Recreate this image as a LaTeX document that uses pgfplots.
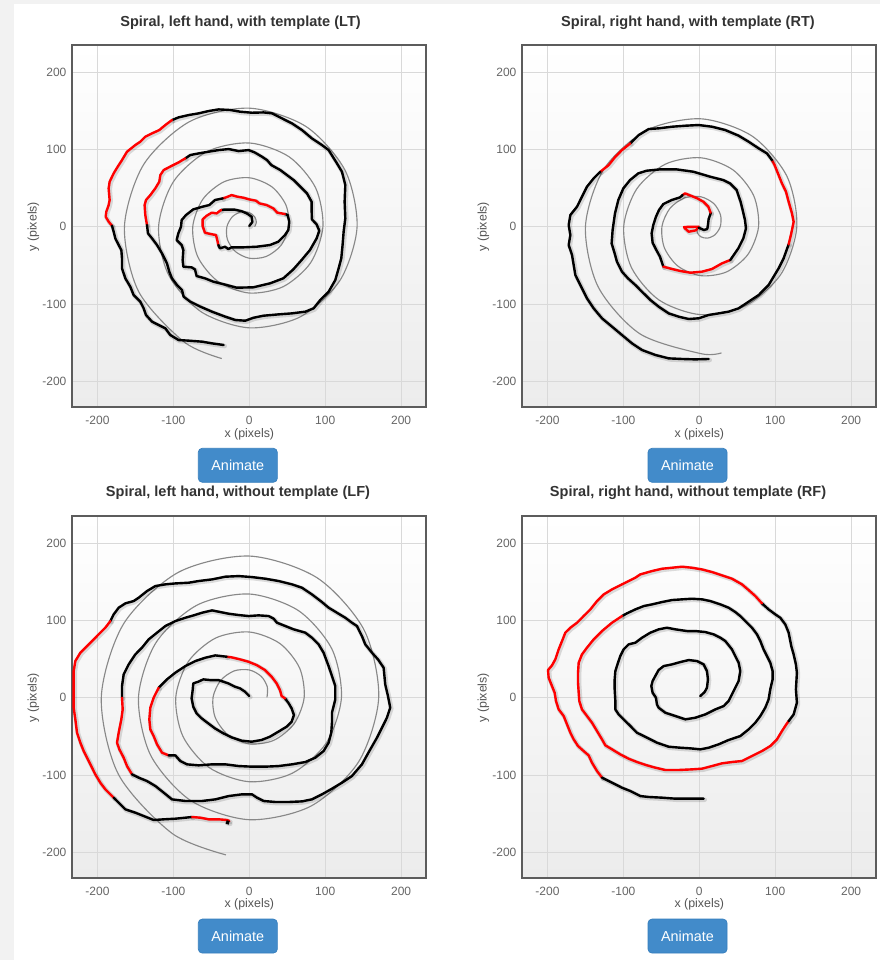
\documentclass[border=0pt]{standalone}
\usepackage{fontspec}
\setmainfont{Liberation Sans}
\usepackage{pgfplots}
\pgfplotsset{compat=1.18}
\definecolor{tgray}{HTML}{666666}
\definecolor{ttl}{HTML}{333333}
\definecolor{labc}{HTML}{555555}
\definecolor{framec}{HTML}{5C5C5C}
\definecolor{gridc}{HTML}{D9D9D9}
\definecolor{bgb}{HTML}{ECECEC}
\definecolor{pagegray}{HTML}{F2F2F2}
\definecolor{btn}{HTML}{428BCA}
\definecolor{btnb}{HTML}{357EBD}
\definecolor{tmplc}{HTML}{888888}
\definecolor{penred}{HTML}{FF0000}
\pgfplotsset{
  sp/.style={scale only axis, width=265.5pt, height=271.5pt, anchor=north west,
    xmin=-233.6, xmax=232.8, ymin=-233.2, ymax=235,
    xtick={-200,-100,0,100,200}, xticklabels={-200,-100,0,100,200},
    ytick={-200,-100,0,100,200}, yticklabels={-200,-100,0,100,200},
    grid=major, grid style={gridc, line width=0.75pt},
    major tick length=0pt, tick style={draw=none},
    axis line style={framec, line width=1.5pt},
    axis background/.style={shade, top color=white, bottom color=bgb},
    ticklabel style={font=\fontsize{9}{10}\selectfont, text=tgray},
    xticklabel style={anchor=center, inner sep=0pt, yshift=-9.75pt},
    yticklabel style={anchor=east, inner sep=0pt, xshift=-4pt}},
  tmpl/.style={tmplc, line width=0.85pt, smooth, no marks},
  shd/.style={preaction={draw=black, draw opacity=0.13, line width=3.4pt, line join=round, line cap=round, transform canvas={xshift=0.8pt, yshift=-0.8pt}}},
  blk/.style={black, line width=1.8pt, no marks, line join=round, line cap=round, shd},
  rd/.style={penred, line width=1.8pt, no marks, line join=round, line cap=round, shd}
}
\begin{document}
\begin{tikzpicture}
\path[use as bounding box] (0,0) rectangle (660pt,-720pt);
\fill[pagegray] (0,0) rectangle (660pt,-720pt);
\fill[white] (10.5pt,-3pt) rectangle (660pt,-720pt);

% ---------- Panel 1: LT ----------
\begin{axis}[sp, at={(54pt,-33.75pt)}]
\addplot[tmpl] coordinates {(7,0)(9.3,5.4)(7.3,12.6)(0,18.3)(-11,19.1)(-22.3,12.9)(-29.5,0)(-28.8,-16.6)(-18.5,-32)(0,-40.8)(22.3,-38.5)(41.8,-24.1)(52,0)(48.3,27.9)(29.8,51.5)(0,63.3)(-33.5,58)(-61.3,35.4)(-74.5,0)(-67.8,-39.1)(-41,-71)(0,-85.8)(44.8,-77.5)(80.8,-46.6)(97,0)(87.3,50.4)(52.3,90.5)(0,108.3)(-56,97)(-100.2,57.9)(-119.5,0)(-106.7,-61.6)(-63.5,-110)(0,-130.8)(67.3,-116.5)(119.7,-69.1)(142,0)(126.2,72.9)(74.8,129.5)(0,153.3)(-78.5,136)(-139.2,80.4)(-164.5,0)(-145.7,-84.1)(-86,-149)(-36.3,-170.5)};
\addplot[blk] coordinates {(0,1)(4,6)(3,13)(-3,17)(-10,20)(-19,22)(-28,22)(-34,22)(-37.3,21.6)};
\addplot[rd] coordinates {(-37.3,21.6)(-43,17.2)(-49.6,18.1)(-56.2,14.2)(-61.5,9.5)(-61.5,0.9)(-58.4,-7.8)(-50.9,-9.5)(-43.9,-10.8)(-42.2,-17.2)(-40.8,-23.7)};
\addplot[blk] coordinates {(-40.8,-23.7)(-38.6,-28)(-32.1,-25.9)(-27.7,-28.9)(-23.3,-26.7)(-7.9,-26.7)(9.7,-25.9)(27.2,-23.7)(38.2,-19.4)(47,-10.8)(51.4,-4.3)(52.7,6.5)(50.5,15.1)(47,16.4)};
\addplot[rd] coordinates {(47,16.4)(36.9,18.1)(31.6,23.7)(22.8,28)(13.2,30.2)(8.8,33.6)(0,35.3)(-7.9,37.5)(-15.8,38.8)(-23.3,40.9)(-30.7,37.9)(-35.1,36.6)};
\addplot[blk] coordinates {(-35.1,36.6)(-45.2,34.5)(-52.7,28)(-61.5,25.9)(-73.8,22.4)(-83.4,15.1)(-89.1,8.6)(-90,0)(-93.5,-8.6)(-95.7,-17.2)(-89.1,-23.7)(-86.9,-30.2)(-87.8,-43.1)(-86.9,-51.7)(-76,-52.6)(-71.6,-55.2)(-69.4,-63.8)(-58.4,-66.8)(-47.4,-71.1)(-29.9,-75.4)(-16.7,-78.9)(5.3,-78.4)(27.2,-73.3)(44.8,-66.8)(58,-55.2)(68.9,-43.1)(79.9,-30.2)(88.7,-15.1)(92.2,-5.2)(88.7,3)(82.5,9.5)(82.1,21.6)(82.1,32.3)(76,43.1)(67.2,51.7)(58.4,60.3)(49.6,66.8)(40.8,73.3)(29,79.7)(23.3,86.2)(16.7,90.5)(7,96.1)(-0.9,99.1)(-14,97.8)(-27.2,100.4)(-40.4,99.1)(-53.6,97)(-66.7,94.8)(-77.7,92.7)(-84.3,88.4)};
\addplot[rd] coordinates {(-84.3,88.4)(-93.1,83.2)(-101.9,78.9)(-112.8,73.3)(-117.2,66.8)(-118.6,58.2)(-123.8,49.6)(-130.4,40.9)(-136.1,34.5)(-137.9,28)(-137,15.1)(-134.8,2.2)};
\addplot[blk] coordinates {(-134.8,2.2)(-133.5,-8.6)(-128.2,-15.1)(-121.6,-23.7)(-115,-34.5)(-108.5,-47.4)(-105.4,-58.2)(-101.9,-66.8)(-95.3,-75.4)(-88.7,-81.9)(-86.5,-90.5)(-77.7,-97)(-64.5,-103.4)(-49.2,-109.9)(-31.6,-116.4)(-18.4,-120.7)(-5.3,-121.6)(5.7,-117.7)(18.9,-115.1)(38.6,-113.4)(56.2,-112.1)(73.8,-109.9)(84.7,-105.6)(93.5,-94.8)(104.5,-84.1)(113.3,-69)(117.7,-53.9)(121.2,-40.9)(122.9,-23.7)(124.3,-6.5)(126.5,10.8)(125.6,32.3)(126.5,53.9)(122.1,71.1)(115.5,81.9)(104.5,99.1)(95.7,105.6)(82.5,114.2)(69.4,125)(56.2,133.6)(43,140.1)(29.9,146.6)(18.9,147.8)(3.5,147.4)(-11.9,148.7)(-25,150.9)(-40.4,151.7)(-53.6,149.6)(-66.7,146.6)(-79.9,144.4)(-93.1,141.4)(-101.9,137.9)};
\addplot[rd] coordinates {(-101.9,137.9)(-110.6,131.5)(-118.6,125)(-128.2,120.7)(-137,116.4)(-143.6,109.9)(-150.2,105.6)(-161.1,97)(-167.7,86.2)(-173.4,77.6)(-178.7,69)(-184,58.2)(-185.3,49.6)(-184,34.5)(-185.3,28)(-188.4,19.4)(-189.2,12.9)(-185.3,6.5)(-180.9,1.3)};
\addplot[blk] coordinates {(-180.9,1.3)(-178.7,-6.5)(-176.5,-15.1)(-172.1,-23.7)(-168.6,-30.2)(-167.7,-40.9)(-167.7,-53.9)(-163.3,-66.8)(-156.8,-77.6)(-152.4,-88.4)(-143.6,-97)(-139.2,-105.6)(-136.1,-114.2)(-128.2,-122.8)(-119.4,-127.2)(-110.6,-131.5)(-104.1,-140.1)(-93.1,-146.6)(-79.9,-147.4)(-62.3,-148.7)(-49.2,-150.9)(-33.8,-153)};
\end{axis}

% ---------- Panel 2: RT ----------
\begin{axis}[sp, at={(391.5pt,-33.75pt)}]
\addplot[tmpl] coordinates {(1.2,0.3)(-2.35,-2.1)(-2.7,-7.5)(1.85,-12.95)(10.6,-14.8)(20.6,-10.5)(27.7,0.3)(27.9,15.3)(19,30)(1.85,38.75)(-19.5,37.2)(-38.7,23.7)(-49.2,0.3)(-46,-27.3)(-27.9,-51.2)(1.85,-63.35)(35.8,-58.5)(64.2,-35.7)(78.1,0.3)(71.5,40.5)(44.2,73.6)(1.85,89.15)(-44.7,80.9)(-82.4,48.9)(-99.6,0.3)(-89.6,-52.5)(-53.1,-94.8)(1.85,-113.75)(61,-102.1)(107.9,-60.9)(128.5,0.3)(115.2,65.7)(69.4,117.3)(1.85,139.55)(-69.9,124.5)(-126,74.1)(-150,0.3)(-133.3,-77.7)(-78.3,-138.5)(1.85,-164.15)(29.2,-163.2)};
\addplot[rd] coordinates {(-20.2,-0.4)(-0.9,0)(-4.4,-4.7)(-14,-6.5)(-18.4,-2.6)(-20.2,-0.4)};
\addplot[blk] coordinates {(-0.9,-1.3)(6.1,-4.3)(10.5,-3)(11.4,2.2)(12.3,9.9)(14.9,17.2)(14.9,18.1)};
\addplot[rd] coordinates {(14.9,18.1)(11.9,25.9)(5.3,32.3)(-2.6,36.6)(-10.1,39.7)(-18.9,43.1)(-22,40.9)};
\addplot[blk] coordinates {(-22,40.9)(-25.5,37.9)(-36.4,34.5)(-47.4,29.3)(-53.1,21.6)(-57.1,12.9)(-60.6,2.2)(-62.8,-8.6)(-61.5,-20.7)(-57.1,-29.3)(-51.8,-38.8)(-47.4,-51.7)};
\addplot[rd] coordinates {(-47.4,-51.7)(-36,-54.7)(-25,-57.3)(-11.9,-59.5)(3.5,-58.2)(16.7,-54.7)(29.9,-47.4)(40.8,-43.1)};
\addplot[blk] coordinates {(40.8,-43.1)(51.4,-28)(58,-15.1)(61.5,-2.2)(60.2,8.6)(57.1,21.6)(54.4,32.3)(51.4,40.9)(49.2,47.4)(40.4,56)(31.6,60.3)(14.1,64.7)(-7.9,71.1)(-29.9,74.1)(-51.8,74.1)(-69.4,72.4)(-80.4,69)(-91.3,60.3)(-100.1,49.6)(-106.7,34.5)(-111.1,17.2)(-114.2,-4.3)(-115.5,-21.6)(-111.5,-34.5)(-108.5,-45.3)(-101.9,-58.2)(-94,-66.8)(-84.3,-75.4)(-75.5,-84.1)(-64.5,-94.8)(-53.6,-103.4)(-40.4,-112.1)(-27.2,-116.4)(-14,-119.4)(-0.9,-118.5)(12.3,-114.2)(25.5,-112.1)(38.6,-109.9)(51.8,-105.6)(65,-97)(78.2,-88.4)(91.3,-75.4)(97.9,-64.7)(104.5,-53.9)(111.1,-40.9)(117.7,-22.8)};
\addplot[rd] coordinates {(117.7,-22.8)(121.2,-8.6)(124.3,6.5)(122.1,17.2)(117.7,32.3)(114.2,45.3)(108.9,56)(104.5,66.8)(99.2,79.7)(95.7,86.2)};
\addplot[blk] coordinates {(95.7,86.2)(89.1,94.8)(78.2,101.3)(65,109.9)(51.8,117.7)(34.2,125)(16.7,129.3)(-0.9,131.5)(-18.4,130.6)(-36,129.3)(-53.6,127.2)(-66.7,126.3)(-79.9,118.5)(-90.9,107.8)};
\addplot[rd] coordinates {(-90.9,107.8)(-101.9,99.1)(-110.6,90.5)(-119.4,79.7)(-130.4,71.1)};
\addplot[blk] coordinates {(-130.4,71.1)(-139.2,62.5)(-148,51.7)(-154.6,38.8)(-161.1,25.9)(-169.9,15.1)(-172.1,2.2)(-169.9,-10.8)(-172.1,-23.7)(-167.7,-36.6)(-165.5,-49.6)(-163.3,-62.5)(-156.8,-75.4)(-148,-92.7)(-139.2,-105.6)(-128.2,-118.5)(-115,-129.3)(-101.9,-140.1)(-88.7,-150.9)(-75.5,-159.5)(-58,-165.9)(-40.4,-170.3)(-22.8,-171.1)(-5.3,-171.6)(12.3,-171.1)};
\end{axis}

% ---------- Panel 3: LF ----------
\begin{axis}[sp, at={(54pt,-387pt)}]
\addplot[tmpl] coordinates {(23.3,0.4)(23.7,14.1)(15.7,27.6)(0,35.9)(-19.8,34.7)(-37.8,22.3)(-47.8,0.4)(-44.9,-25.5)(-28,-48.1)(0,-59.7)(32.1,-55.2)(59.1,-33.7)(72.3,0.4)(66.2,38.6)(40.3,70.1)(0,85)(-44.3,77.2)(-80.3,46.8)(-96.9,0.4)(-87.4,-50.1)(-52.5,-90.6)(0,-108.7)(56.6,-97.7)(101.6,-58.3)(121.4,0.4)(108.7,63.2)(64.8,112.6)(0,134.1)(-68.9,119.7)(-122.9,71.3)(-146,0.4)(-129.9,-74.6)(-77.1,-133.1)(0,-157.8)(81.2,-140.2)(144.1,-82.8)(170.5,0.4)(151.2,87.7)(89.3,155.1)(0,183.2)(-93.4,162.2)(-165.4,95.9)(-195,0.4)(-172.4,-99.2)(-101.6,-175.6)(-30.8,-203.3)};
\addplot[blk] coordinates {(0,2.2)(-5.7,7.8)(-12.3,12.1)(-18.9,14.2)(-27.7,18.5)(-34.2,20.7)(-40.8,22.8)(-51.8,22.8)(-60.6,23.7)(-67.2,20.7)(-73.8,18.5)(-74.6,9.9)(-76,-0.9)(-73.8,-11.6)(-69.4,-20.3)(-62.8,-26.7)(-54,-33.2)(-45.2,-39.7)(-34.2,-46.1)(-23.3,-51.3)(-10.1,-55.6)(3.1,-56.9)(16.2,-54.7)(27.2,-50.4)(38.2,-44)(49.2,-37.5)(55.8,-31)(58.8,-22.4)(55.8,-13.8)(51.4,-6.5)(47,-0.9)};
\addplot[rd] coordinates {(47,-0.9)(42.6,2.2)(40.4,9.9)(36,18.5)(29.4,27.2)(20.6,35.8)(9.7,42.2)(-1.3,46.6)(-12.3,49.6)(-23.3,52.2)(-29.9,53)};
\addplot[blk] coordinates {(-29.9,53)(-44.8,54.7)(-58,51.7)(-71.1,47.4)(-84.3,40.9)(-97.5,32.3)(-108.5,23.7)(-119.4,12.9)};
\addplot[rd] coordinates {(-119.4,12.9)(-126,0)(-130.4,-12.9)(-131.7,-28)(-130.4,-40.9)(-126,-49.6)(-121.6,-60.3)(-115,-71.1)(-106.3,-74.6)};
\addplot[blk] coordinates {(-106.3,-74.6)(-97.5,-74.6)(-90.9,-81.9)(-82.1,-86.2)(-66.7,-87.5)(-49.2,-86.2)(-31.6,-86.2)(-14,-88.4)(3.5,-89.2)(21.1,-89.2)(38.6,-88.4)(56.2,-86.2)(73.8,-83.2)(86.9,-77.6)(97.9,-69)(104.5,-58.2)(108,-45.3)(108.9,-32.3)(108.9,-19.4)(113.3,-2.2)(113.3,15.1)(108.9,28)(104.5,40.9)(97.9,58.2)(91.3,69)(82.5,77.6)(73.8,84.1)(58.4,88.4)(47.4,92.7)(36.4,97)(32.1,102.2)(25.5,105.6)(12.3,106.5)(-0.9,105.6)(-14,106.9)(-27.2,108.6)(-40.4,111.2)(-49.2,112.9)(-62.3,109.9)(-73.3,106.5)(-84.3,103.4)(-97.5,99.1)(-110.6,92.7)(-121.6,84.1)(-132.6,75.4)(-141.4,64.7)(-150.2,56)(-158.9,43.1)(-165.5,30.2)(-167.7,15.1)(-167.7,0)};
\addplot[rd] coordinates {(-167.7,0)(-166.8,-15.1)(-168.6,-28)(-172.1,-45.3)(-174.3,-58.2)(-171.2,-66.8)(-165.5,-77.6)(-161.1,-88.4)(-154.6,-99.1)};
\addplot[blk] coordinates {(-154.6,-99.1)(-145.8,-103.4)(-134.8,-107.8)(-123.8,-114.2)(-112.8,-122.8)(-101.9,-131.5)(-84.3,-133.6)(-62.3,-133.6)(-44.8,-131.5)(-27.2,-127.2)(-9.7,-125)(3.5,-125)(10.1,-129.3)(18.9,-133.6)(34.2,-134.9)(51.8,-134.9)(69.4,-134.1)(82.5,-131.5)(95.7,-125)(108.9,-117.7)(122.1,-109.9)(135.2,-101.3)(148.4,-86.2)(159.4,-66.8)(168.2,-51.7)(174.8,-38.8)(181.3,-25.9)(185.7,-12.9)(182.7,2.2)(179.1,17.2)(177,38.8)(169.5,49.6)(161.6,58.2)(152.8,69)(148.4,79.7)(141.8,92.7)(135.2,97)(126.5,103.4)(115.5,109.9)(104.5,116.4)(95.7,123.7)(82.5,133.6)(69.4,142.2)(56.2,146.6)(38.6,150.9)(21.1,153.9)(3.5,156)(-14,157.3)(-31.6,156.5)(-49.2,153)(-66.7,150.9)(-79.9,148.7)(-97.5,147.8)(-110.6,146.6)(-123.8,144.4)(-134.8,137.9)(-145.8,129.3)(-152.4,125)(-163.3,122)(-172.1,116.4)(-178.7,107.8)(-183.1,99.1)};
\addplot[rd] coordinates {(-183.1,99.1)(-189.7,90.5)(-196.3,84.1)(-205,75.4)(-213.8,66.8)(-222.6,58.2)(-229.2,47.4)(-231.4,34.5)(-231.4,19.4)(-231.4,0)(-231.4,-12.9)(-229.2,-28)(-227,-45.3)(-222.6,-58.2)(-218.2,-69)(-213.8,-77.6)(-209.4,-86.2)(-202.9,-99.1)(-196.3,-109.9)(-189.7,-118.5)(-178.7,-129.3)};
\addplot[blk] coordinates {(-178.7,-129.3)(-169.9,-137.9)(-163.3,-144.4)(-150.2,-148.7)(-139.2,-153)(-126,-158.2)(-112.8,-157.3)(-97.5,-156.5)(-84.3,-155.2)(-75.5,-154.3)};
\addplot[rd] coordinates {(-75.5,-154.3)(-64.5,-155.2)(-53.6,-157.3)(-40.4,-157.3)(-29.4,-158.2)(-26.3,-159.5)};
\addplot[black, line width=2.8pt, no marks, shd] coordinates {(-30.5,-160.8)(-26.5,-161.8)};
\end{axis}

% ---------- Panel 4: RF ----------
\begin{axis}[sp, at={(391.5pt,-387pt)}]
\addplot[blk] coordinates {(1.3,2.2)(7,7.3)(10.1,12.9)(11.4,23.7)(10.1,34.5)(5.7,43.1)(-3.1,47.4)(-14,48.7)(-25,46.1)(-36,43.1)(-47,40.9)(-53.6,35.8)(-58,28)(-61.5,21.6)(-63.2,15.1)(-61.5,6.5)(-57.1,0)(-55.8,-8.6)(-53.6,-12.9)(-44.8,-19.4)(-31.6,-23.7)(-18.4,-28)(-5.3,-25.9)(7.9,-21.6)(21.1,-15.1)(32.1,-10.8)(38.6,-4.3)(43,4.3)(47.4,12.9)(51.8,21.6)(54,34.5)(51.8,45.3)(47.4,53.9)(43,62.5)(34.2,73.3)(27.7,77.6)(18.9,81.9)(7.9,84.9)(-5.3,86.2)(-16.2,86.2)(-31.6,88.4)(-42.6,90.5)(-53.6,88.4)(-64.5,84.1)(-75.5,77.6)(-84.3,71.1)(-93.1,69)(-99.7,62.5)(-104.1,53.9)(-107.1,45.3)(-110.6,34.5)(-111.5,23.7)(-111.5,10.8)(-110.6,-4.3)(-110.6,-15.1)(-106.3,-21.6)(-99.7,-28)(-90.9,-36.6)(-82.1,-45.3)(-68.9,-51.7)(-55.8,-58.2)(-40.4,-63.4)(-25,-64.7)(-11.9,-65.5)(1.3,-66.8)(12.3,-64.7)(25.5,-60.3)(38.6,-54.7)(54,-49.6)(65,-40.9)(73.8,-32.3)(80.4,-23.7)(86.9,-12.9)(91.3,-2.2)(93.5,10.8)(96.6,23.7)(96.6,34.5)(93.5,45.3)(89.1,53.9)(84.7,62.5)(80.4,73.3)(76,81.9)(69.4,90.5)(60.6,99.1)(54,105.6)(47.4,110.8)(38.6,116.4)(27.7,120.7)(14.5,125)(3.5,127.2)(-9.7,128)(-22.8,127.2)(-36,126.3)(-49.2,123.7)(-62.3,120.7)(-73.3,118.5)(-84.3,114.2)(-95.3,109.1)(-101.9,105.6)};
\addplot[rd] coordinates {(-101.9,105.6)(-115,97)(-128.2,86.2)(-139.2,75.4)(-148,64.7)(-154.6,56)(-158.9,45.3)(-159.8,32.3)(-159.8,19.4)(-158.9,6.5)(-158.1,-4.3)(-154.6,-15.1)(-148,-23.7)(-141.4,-32.3)(-134.8,-43.1)(-128.2,-53.9)(-123.8,-61.6)(-115,-66.8)(-104.1,-73.3)(-93.1,-78.9)(-82.1,-83.2)(-68.9,-87.5)(-58,-90.5)(-44.8,-93.5)(-27.2,-93.5)(-9.7,-92.7)(3.5,-91.8)(16.7,-88.4)(29.9,-84.9)(43,-83.2)(56.2,-81.9)(69.4,-75.4)(82.5,-69)(93.5,-62.5)(102.3,-53.9)(108.9,-43.1)(115.5,-33.2)(117.7,-30.2)};
\addplot[blk] coordinates {(117.7,-30.2)(124.3,-21.6)(128.6,-6.5)(127.3,10.8)(128.6,32.3)(127.3,43.1)(124.3,56)(121.2,66.8)(117.7,84.1)(113.3,94.8)(106.7,103.4)(100.1,107.8)(91.3,114.2)(82.5,122)};
\addplot[rd] coordinates {(82.5,122)(73.8,131.5)(65,139.2)(56.2,146.6)(43,153.9)(29.9,158.2)(16.7,162.5)(3.5,165.9)(-9.7,168.1)(-22.8,169.4)(-36,168.1)(-49.2,166.8)(-62.3,163.8)(-77.7,159.5)(-84.3,155.2)(-93.1,150.9)(-101.9,146.6)(-115,140.1)(-126,133.6)(-134.8,125)(-143.6,114.2)(-152.4,105.6)(-161.1,97)(-169.9,90.5)(-176.5,84.1)(-180,75.4)(-185.3,62.5)(-189.7,49.6)(-194.1,41.8)(-199.3,35.8)(-198.5,25.9)(-194.1,15.1)(-190.6,6.5)(-188.8,-4.3)(-185.3,-15.1)(-178.7,-23.7)(-174.3,-34.5)(-169.9,-45.3)(-165.5,-53.9)(-159.8,-62.5)(-152.4,-69)(-145.8,-74.6)(-141.4,-84.1)(-134.8,-94.8)(-128.2,-103.4)};
\addplot[blk] coordinates {(-128.2,-103.4)(-119.4,-107.8)(-110.6,-112.1)(-101.9,-116.4)(-90.9,-120.7)(-77.7,-127.2)(-66.7,-128.4)(-49.2,-129.3)(-31.6,-130.6)(-14,-130.6)(5.7,-130.6)};
\end{axis}

% ---------- texts ----------
\begin{scope}[every node/.style={inner sep=0pt}]
\node[font=\fontsize{10.9}{12}\selectfont\bfseries, text=ttl] at (180.4pt,-17pt) {Spiral, left hand, with template (LT)};
\node[font=\fontsize{10.9}{12}\selectfont\bfseries, text=ttl] at (516pt,-17pt) {Spiral, right hand, with template (RT)};
\node[font=\fontsize{10.9}{12}\selectfont\bfseries, text=ttl] at (178.5pt,-369.5pt) {Spiral, left hand, without template (LF)};
\node[font=\fontsize{10.9}{12}\selectfont\bfseries, text=ttl] at (516pt,-369.5pt) {Spiral, right hand, without template (RF)};
\foreach \xx/\yy in {187/-325.5, 524.5/-325.5, 187/-678, 524.5/-678}
  \node[font=\fontsize{9.3}{11}\selectfont, text=labc] at (\xx pt,\yy pt) {x (pixels)};
\foreach \xx/\yy in {25/-170, 362.5/-170, 25/-523.3, 362.5/-523.3}
  \node[font=\fontsize{9.3}{11}\selectfont, text=labc, rotate=90] at (\xx pt,\yy pt) {y (pixels)};
\foreach \bx/\by in {148.7/-336.2, 486/-336.2, 148.7/-689.3, 486/-689.3}{
  \draw[btnb, fill=btn, rounded corners=3pt, line width=0.5pt] (\bx pt,\by pt) rectangle ++(59.3pt,-25.5pt);
  \node[font=\fontsize{10.8}{12}\selectfont, text=white] at ({\bx pt+29.65pt},{\by pt-12.75pt}) {Animate};
}
\end{scope}
\end{tikzpicture}
\end{document}
